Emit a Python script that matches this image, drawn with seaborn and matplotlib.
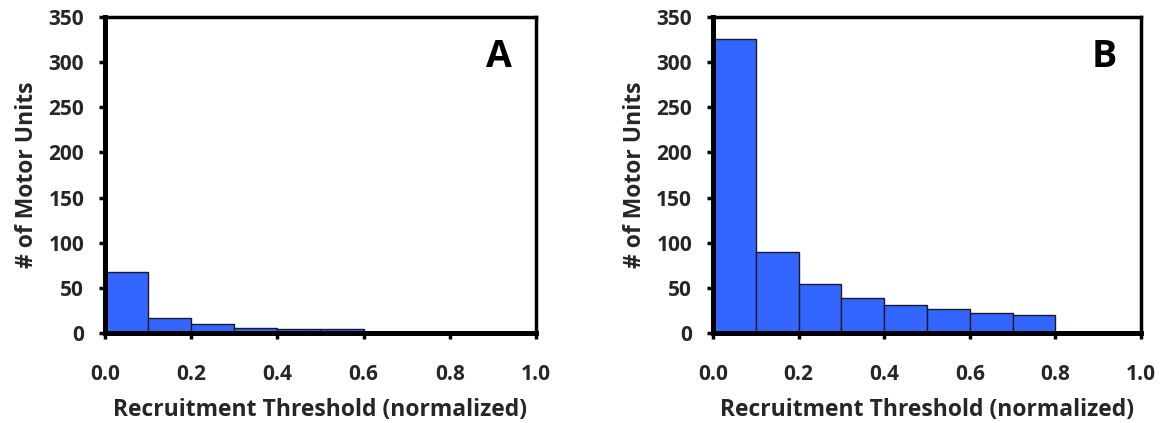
import numpy as np
import pandas as pd
import seaborn as sns
import matplotlib
matplotlib.use("Agg")
import matplotlib.pyplot as plt

# Histogram bin edges (normalized recruitment threshold) and motor-unit counts
bin_edges = [0.0, 0.1, 0.2, 0.3, 0.4, 0.5, 0.6, 0.7, 0.8]
counts_a = [68, 17, 10, 6, 4, 4, 0, 0]
counts_b = [326, 90, 54, 39, 31, 27, 22, 20]
panel_labels = ["A", "B"]

x_ticks = [0.0, 0.2, 0.4, 0.6, 0.8, 1.0]
y_ticks = [0, 50, 100, 150, 200, 250, 300, 350]

sns.set_theme(style="white")
plt.rcParams["font.family"] = ["Open Sans", "DejaVu Sans"]
plt.rcParams["font.weight"] = "bold"

fig = plt.figure(figsize=(11.68, 4.23), dpi=100)
ax_a = fig.add_axes([0.0899, 0.2128, 0.369, 0.747])
ax_b = fig.add_axes([0.6104, 0.2128, 0.3664, 0.747])

bar_color = "#3366FF"
centers = [(bin_edges[i] + bin_edges[i + 1]) / 2 for i in range(len(bin_edges) - 1)]

for ax, counts, label in zip([ax_a, ax_b], [counts_a, counts_b], panel_labels):
    df = pd.DataFrame({"threshold": centers, "count": counts})
    sns.histplot(data=df, x="threshold", weights="count", bins=bin_edges,
                 color=bar_color, edgecolor="#1a1a2e", linewidth=1.0,
                 alpha=1.0, ax=ax)
    ax.set_xlim(0, 1.0)
    ax.set_ylim(0, 350)
    ax.set_xticks(x_ticks)
    ax.set_xticklabels([f"{t:.1f}" for t in x_ticks])
    ax.set_yticks(y_ticks)
    ax.set_xlabel("Recruitment Threshold (normalized)", fontsize=16.5,
                  fontweight="bold", labelpad=9.5)
    ax.set_ylabel("# of Motor Units", fontsize=16.5, fontweight="bold",
                  labelpad=7)
    ax.tick_params(axis="both", which="major", direction="out", length=4,
                   width=2.5, color="black", labelsize=15,
                   bottom=True, left=True)
    ax.tick_params(axis="x", pad=18)
    ax.tick_params(axis="y", pad=11)
    for t in ax.get_xticklabels() + ax.get_yticklabels():
        t.set_fontweight("bold")
    for side in ["left", "bottom"]:
        ax.spines[side].set_linewidth(3.6)
        ax.spines[side].set_color("black")
    for side in ["top", "right"]:
        ax.spines[side].set_linewidth(2.5)
        ax.spines[side].set_color("black")
        ax.spines[side].set_visible(True)
    ax.text(0.915, 0.875, label, transform=ax.transAxes, fontsize=27,
            fontweight="bold", ha="center", va="center", color="black")
    ax.grid(False)

fig.savefig("out.png", dpi=100)
